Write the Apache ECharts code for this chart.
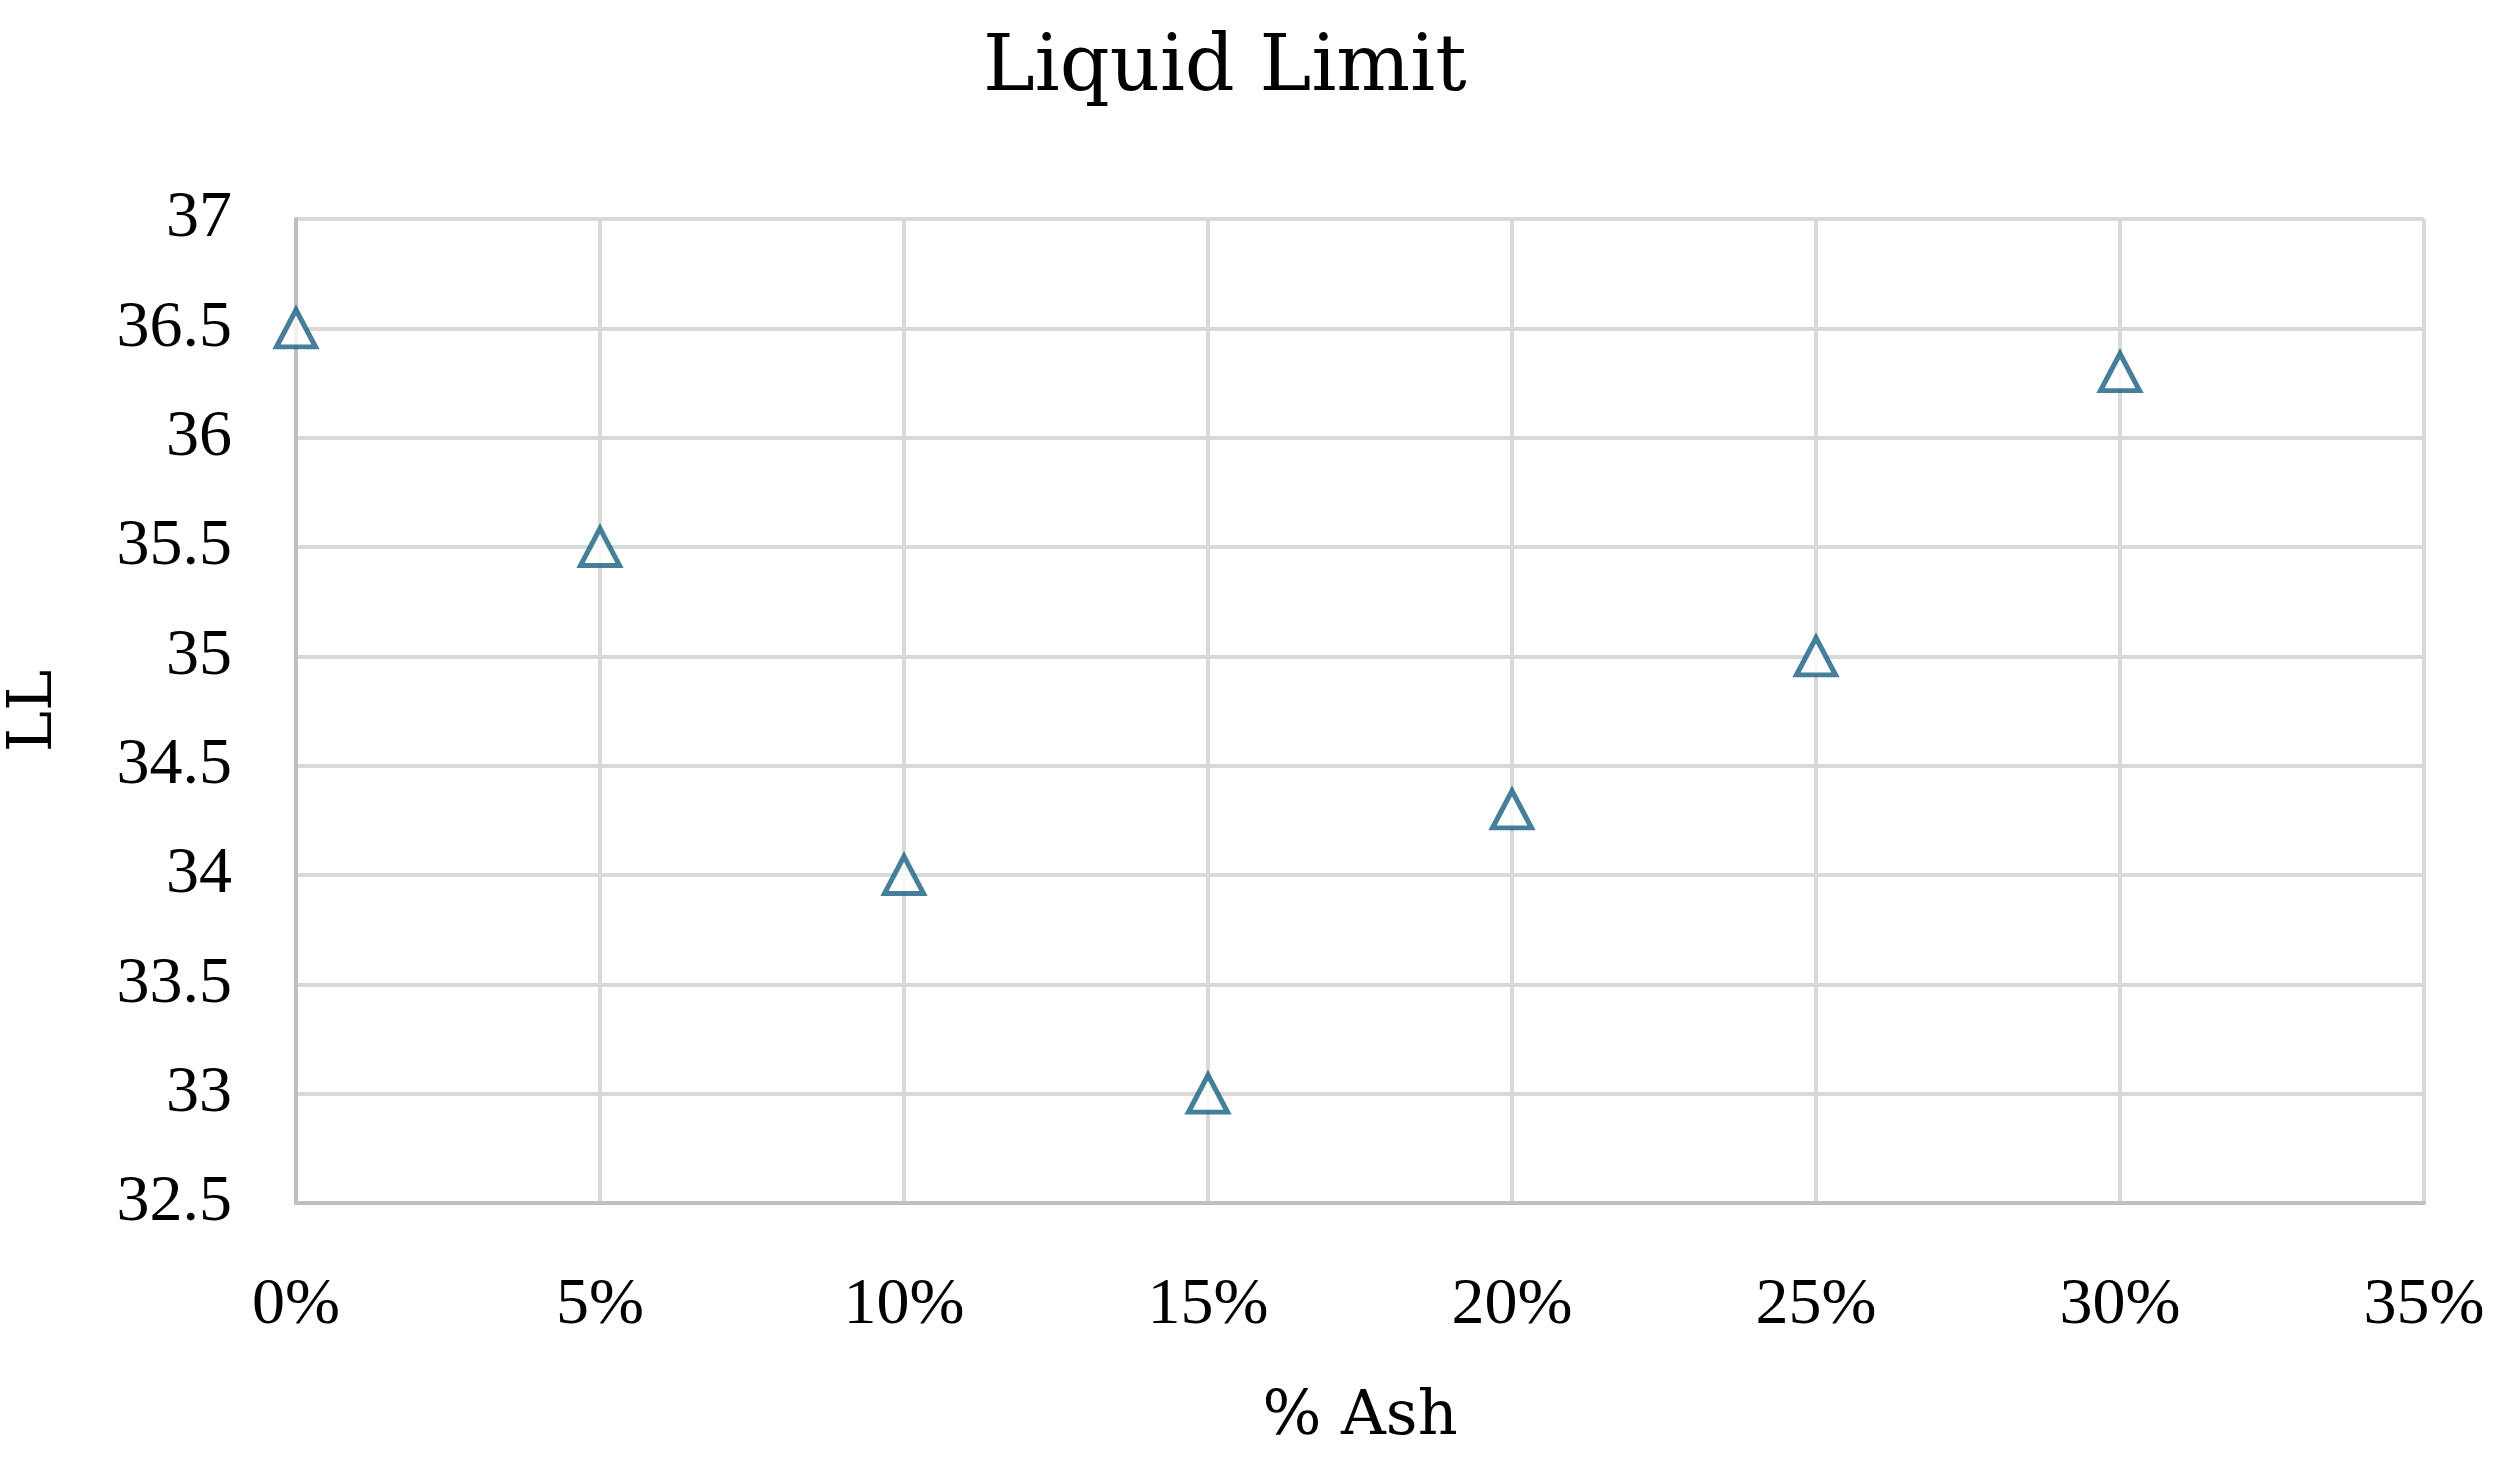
<!DOCTYPE html>
<html>
<head>
<meta charset="utf-8">
<script src="https://cdn.jsdelivr.net/npm/echarts@6/dist/echarts.min.js"></script>
<style>
html, body { margin: 0; padding: 0; background: #fff; }
#chart { width: 2505px; height: 1460px; }
</style>
</head>
<body>
<div id="chart"></div>
<script>
var ashPercent = [0, 5, 10, 15, 20, 25, 30];
var liquidLimit = [36.5, 35.5, 34, 33, 34.3, 35, 36.3];

var labelFont = '"Liberation Serif", serif';
var titleFont = '"DejaVu Serif", "Liberation Serif", serif';

function draw_scatter(idname) {
	let mychart = echarts.init(document.getElementById(idname));

	var points = [];
	for (var i = 0; i < ashPercent.length; i++) {
		points.push([ashPercent[i], liquidLimit[i]]);
	}

	let option = {
		backgroundColor: '#ffffff',
		animation: false,
		title: {
			text: 'Liquid Limit',
			left: 978,
			top: 26,
			textStyle: {
				fontFamily: titleFont,
				fontWeight: 'normal',
				fontSize: 78,
				color: '#000'
			}
		},
		grid: {
			left: 296,
			right: 81,
			top: 219,
			bottom: 257,
			outerBoundsMode: 'none'
		},
		xAxis: {
			type: 'value',
			min: 0,
			max: 35,
			interval: 5,
			name: '% Ash',
			nameLocation: 'middle',
			nameGap: 184,
			nameTextStyle: {
				fontFamily: titleFont,
				fontSize: 62,
				color: '#000'
			},
			axisLine: {
				show: true,
				lineStyle: { color: '#bfbfbf', width: 4 }
			},
			axisTick: { show: false },
			axisLabel: {
				fontFamily: labelFont,
				fontSize: 66,
				color: '#000',
				margin: 70,
				formatter: function(v) { return v + '%'; }
			},
			splitLine: {
				show: true,
				lineStyle: { color: '#d9d9d9', width: 4 }
			}
		},
		yAxis: {
			type: 'value',
			min: 32.5,
			max: 37,
			interval: 0.5,
			name: 'LL',
			nameLocation: 'middle',
			nameGap: 230,
			nameTextStyle: {
				fontFamily: titleFont,
				fontSize: 62,
				color: '#000'
			},
			axisLine: {
				show: true,
				lineStyle: { color: '#bfbfbf', width: 4 }
			},
			axisTick: { show: false },
			axisLabel: {
				fontFamily: labelFont,
				fontSize: 66,
				color: '#000',
				margin: 64
			},
			splitLine: {
				show: true,
				lineStyle: { color: '#d9d9d9', width: 4 }
			}
		},
		series: [{
			type: 'scatter',
			data: points,
			symbol: 'triangle',
			symbolSize: [39, 37],
			itemStyle: {
				color: '#ffffff',
				borderColor: '#175f80',
				borderWidth: 5
			},
			z: 10
		}]
	};

	mychart.setOption(option);
}

draw_scatter('chart');
</script>
</body>
</html>
